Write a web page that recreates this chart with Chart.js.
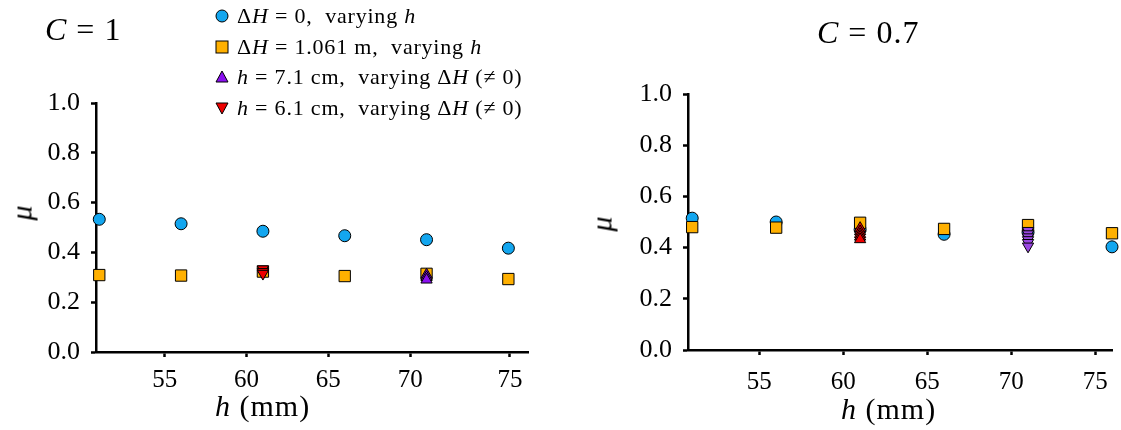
<!DOCTYPE html>
<html>
<head>
<meta charset="utf-8">
<script src="https://cdn.jsdelivr.net/npm/chart.js@4.4.1/dist/chart.umd.min.js"></script>
<style>
  body { margin: 0; background: #fff; width: 1121px; height: 430px; position: relative; overflow: hidden; }
  canvas { position: absolute; top: 0; }
  .txt { position: absolute; font-family: 'Liberation Serif', serif; color: #000; white-space: nowrap; }
  .ttl { font-size: 32px; letter-spacing: 1px; }
  .axt { font-size: 30px; letter-spacing: 1px; }
  .mu { font-size: 30px; font-style: italic; transform: rotate(-90deg); }
  .leg { position: absolute; left: 215px; top: 1px; font-family: 'Liberation Serif', serif; font-size: 22px; letter-spacing: 0.8px; }
  .leg div { height: 30.5px; display: flex; align-items: center; }
  .leg svg { margin-right: 8px; }
</style>
</head>
<body>
<canvas id="left" width="560" height="430" style="left:0"></canvas>
<canvas id="right" width="561" height="430" style="left:560px"></canvas>

<div class="txt ttl" style="left:45px; top:11px"><i>C</i> = 1</div>
<div class="txt ttl" style="left:817px; top:14px"><i>C</i> = 0.7</div>
<div class="txt mu" style="left:14px; top:196px">μ</div>
<div class="txt mu" style="left:594px; top:207px">μ</div>
<div class="txt axt" style="left:215px; top:389px"><i>h</i> (mm)</div>
<div class="txt axt" style="left:841px; top:392px"><i>h</i> (mm)</div>

<div class="leg">
  <div><svg width="14" height="14"><circle cx="7" cy="7" r="6" fill="#13a6ef" stroke="#000" stroke-width="1"/></svg>Δ<i>H</i>&nbsp;= 0,&nbsp; varying&nbsp;<i>h</i></div>
  <div><svg width="14" height="14"><rect x="1" y="1" width="12" height="12" fill="#ffb000" stroke="#000" stroke-width="1"/></svg>Δ<i>H</i>&nbsp;= 1.061 m,&nbsp; varying&nbsp;<i>h</i></div>
  <div><svg width="14" height="14"><polygon points="7,1 13,12 1,12" fill="#8a10f0" stroke="#000" stroke-width="1"/></svg><i>h</i>&nbsp;= 7.1 cm,&nbsp; varying Δ<i>H</i>&nbsp;(≠ 0)</div>
  <div><svg width="14" height="14"><polygon points="1,2 13,2 7,13" fill="#ee0000" stroke="#000" stroke-width="1"/></svg><i>h</i>&nbsp;= 6.1 cm,&nbsp; varying Δ<i>H</i>&nbsp;(≠ 0)</div>
</div>

<script>
// tick values
const yTicks = [0, 0.2, 0.4, 0.6, 0.8, 1.0];
const xTickLabels = ['55', '60', '65', '70', '75'];
const xTickPosLeft = [55, 60, 65, 70, 76.1];
const xTickPosRight = [55, 60, 65, 70, 75];

// C = 1
const hLeft = [51, 56, 61, 66, 71, 76];
const muFlatLeft = [0.533, 0.515, 0.485, 0.467, 0.451, 0.417];
const muStepLeft = [0.309, 0.307, 0.323, 0.305, 0.314, 0.293];
const h71Left = [71, 71, 71];
const mu71Left = [0.31, 0.30, 0.29];
const h61Left = [61, 61, 61];
const mu61Left = [0.333, 0.322, 0.315];

// C = 0.7
const hRight = [51, 56, 61, 66, 71, 76];
const muFlatRight = [0.515, 0.50, 0.47, 0.452, 0.46, 0.403];
const muStepRight = [0.48, 0.478, 0.497, 0.473, 0.488, 0.456];
const h61Right = [61, 61, 61, 61, 61];
const mu61Right = [0.476, 0.463, 0.452, 0.442, 0.432];
const h71Right = [71, 71, 71, 71, 71, 71];
const mu71Right = [0.466, 0.453, 0.441, 0.43, 0.419, 0.405];

const pts = (xs, ys) => xs.map((x, i) => ({ x: x, y: ys[i] }));
const serif = "'Liberation Serif', serif";

function series(data, style, color, radius, rotation, order) {
    return {
        data: data,
        pointStyle: style,
        pointRadius: radius,
        pointRotation: rotation,
        pointBackgroundColor: color,
        pointBorderColor: '#000',
        pointBorderWidth: 1,
        showLine: false,
        clip: false,
        order: order
    };
}

function makeChart(id, datasets, xr, xTickPos, box) {
    new Chart(document.getElementById(id), {
        type: 'scatter',
        data: { datasets: datasets },
        options: {
            responsive: false,
            animation: false,
            events: [],
            layout: { padding: { top: box.top, right: box.right, left: 0, bottom: 0 } },
            plugins: { legend: { display: false }, tooltip: { enabled: false } },
            scales: {
                x: {
                    min: xr[0], max: xr[1],
                    afterFit: s => { s.height = box.xh; },
                    afterBuildTicks: s => { s.ticks = xTickPos.map(v => ({ value: v })); },
                    ticks: {
                        autoSkip: false, maxRotation: 0, padding: box.xpad, color: '#000',
                        font: { family: serif, size: 25 },
                        callback: (v, i) => xTickLabels[i]
                    },
                    grid: { drawOnChartArea: false, drawTicks: true, tickLength: 5, tickWidth: 2.5, color: '#000' },
                    border: { display: true, color: '#000', width: 2.5 }
                },
                y: {
                    min: 0, max: 1,
                    afterFit: s => { s.width = box.yw; },
                    afterBuildTicks: s => { s.ticks = yTicks.map(v => ({ value: v })); },
                    ticks: {
                        padding: 11, color: '#000',
                        font: { family: serif, size: 26 },
                        callback: v => v.toFixed(1)
                    },
                    grid: { drawOnChartArea: false, drawTicks: true, tickLength: 5, tickWidth: 2.5, color: '#000' },
                    border: { display: true, color: '#000', width: 2.5 }
                }
            }
        }
    });
}

makeChart('left', [
    series(pts(hLeft, muFlatLeft), 'circle', '#13a6ef', 6, 0, 4),
    series(pts(hLeft, muStepLeft), 'rect', '#ffb000', 8, 0, 3),
    series(pts(h71Left, mu71Left), 'triangle', '#8a10f0', 6.5, 0, 2),
    series(pts(h61Left, mu61Left), 'triangle', '#ee0000', 6.5, 180, 1)
], [50.8, 77.2], xTickPosLeft, { top: 103, right: 32, yw: 96, xh: 78, xpad: 8 });

makeChart('right', [
    series(pts(hRight, muFlatRight), 'circle', '#13a6ef', 6, 0, 4),
    series(pts(hRight, muStepRight), 'rect', '#ffb000', 8, 0, 3),
    series(pts(h71Right, mu71Right), 'triangle', '#9a48e2', 6.5, 180, 2),
    series(pts(h61Right, mu61Right), 'triangle', '#ee0000', 6.5, 0, 1)
], [50.75, 76], xTickPosRight, { top: 94, right: 6, yw: 128, xh: 80, xpad: 12 });
</script>
</body>
</html>
